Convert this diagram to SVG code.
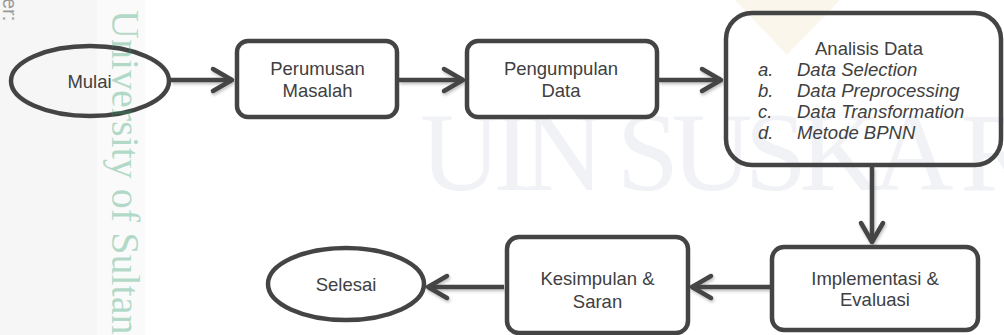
<svg xmlns="http://www.w3.org/2000/svg" width="1004" height="335" viewBox="0 0 1004 335">
  <defs>
    <style>
      .node { fill: none; stroke: #444444; stroke-width: 4.5; }
      .lbl { font-family: "Liberation Sans", Arial, sans-serif; font-size: 18.5px; fill: #404040; }
      .c { text-anchor: middle; }
      .it { font-style: italic; }
      .conn { fill: none; stroke: #444444; stroke-width: 4.5; }
    </style>
    <marker id="arr" markerUnits="userSpaceOnUse" viewBox="-25 -15 30 30" markerWidth="30" markerHeight="30" refX="0" refY="0" orient="auto" overflow="visible">
      <path d="M-19,-11 L0,0 L-19,11" fill="none" stroke="#444444" stroke-width="4.5" stroke-linecap="round" stroke-linejoin="round"/>
    </marker>
    <filter id="sh" x="-20%" y="-50%" width="140%" height="200%">
      <feDropShadow dx="1" dy="2" stdDeviation="1.5" flood-color="#000000" flood-opacity="0.25"/>
    </filter>
  </defs>

  <rect x="0" y="0" width="1004" height="335" fill="#ffffff"/>

  <g id="watermark-back">
    <rect x="0" y="0" width="97" height="335" fill="#f6f6f6"/>
    <rect x="97" y="0" width="48" height="335" fill="#fafafa"/>
    <text transform="translate(3,-2) rotate(90)" x="0" y="0" font-family="Liberation Sans, Arial, sans-serif" font-size="20" fill="#9a9a9a">er:</text>
    <polygon points="735,0 840,0 787,55" fill="#faf6ec"/>
    <text x="420" y="190" font-family="Liberation Serif, 'Times New Roman', serif" font-size="112" fill="#f1f2f6" textLength="615" lengthAdjust="spacing">UIN SUSKA R</text>
  </g>

  <g id="connectors" filter="url(#sh)">
    <line class="conn" x1="171" y1="80" x2="232" y2="80" marker-end="url(#arr)"/>
    <line class="conn" x1="399" y1="80" x2="463" y2="80" marker-end="url(#arr)"/>
    <line class="conn" x1="659" y1="80" x2="721" y2="80" marker-end="url(#arr)"/>
    <line class="conn" x1="872" y1="167" x2="872" y2="242" marker-end="url(#arr)"/>
    <line class="conn" x1="770" y1="287" x2="692" y2="287" marker-end="url(#arr)"/>
    <line class="conn" x1="504" y1="287" x2="428" y2="287" marker-end="url(#arr)"/>
  </g>

  <g id="mulai">
    <ellipse class="node" cx="90" cy="81" rx="79" ry="35"/>
    <text class="lbl c" x="89.5" y="88">Mulai</text>
  </g>

  <g id="perumusan">
    <rect class="node" x="237" y="41" width="160" height="76" rx="11"/>
    <text class="lbl c" x="317.5" y="75">Perumusan</text>
    <text class="lbl c" x="317.5" y="97">Masalah</text>
  </g>

  <g id="pengumpulan">
    <rect class="node" x="467" y="41" width="190" height="76" rx="11"/>
    <text class="lbl c" x="561" y="75">Pengumpulan</text>
    <text class="lbl c" x="561" y="97">Data</text>
  </g>

  <g id="analisis">
    <rect class="node" x="726" y="13" width="275" height="152" rx="26"/>
    <text class="lbl c" x="869" y="55">Analisis Data</text>
    <text class="lbl it" x="758" y="76">a.</text>
    <text class="lbl it" x="797" y="76">Data Selection</text>
    <text class="lbl it" x="758" y="97">b.</text>
    <text class="lbl it" x="797" y="97">Data Preprocessing</text>
    <text class="lbl it" x="758" y="118">c.</text>
    <text class="lbl it" x="797" y="118">Data Transformation</text>
    <text class="lbl it" x="758" y="139">d.</text>
    <text class="lbl it" x="797" y="139">Metode BPNN</text>
  </g>

  <g id="implementasi">
    <rect class="node" x="772" y="247" width="206" height="83" rx="12"/>
    <text class="lbl c" x="875" y="285">Implementasi &amp;</text>
    <text class="lbl c" x="875" y="306">Evaluasi</text>
  </g>

  <g id="kesimpulan">
    <rect class="node" x="507" y="237" width="181" height="96" rx="12"/>
    <text class="lbl c" x="597.5" y="285">Kesimpulan &amp;</text>
    <text class="lbl c" x="597.5" y="308">Saran</text>
  </g>

  <g id="selesai">
    <ellipse class="node" cx="346" cy="284" rx="78" ry="36"/>
    <text class="lbl c" x="346" y="291">Selesai</text>
  </g>

  <g id="watermark-front">
    <text transform="translate(112,10) rotate(90)" x="0" y="0" font-family="Liberation Serif, 'Times New Roman', serif" font-size="40" fill="#2a9a6a" fill-opacity="0.35">University of Sultan</text>
  </g>
</svg>
